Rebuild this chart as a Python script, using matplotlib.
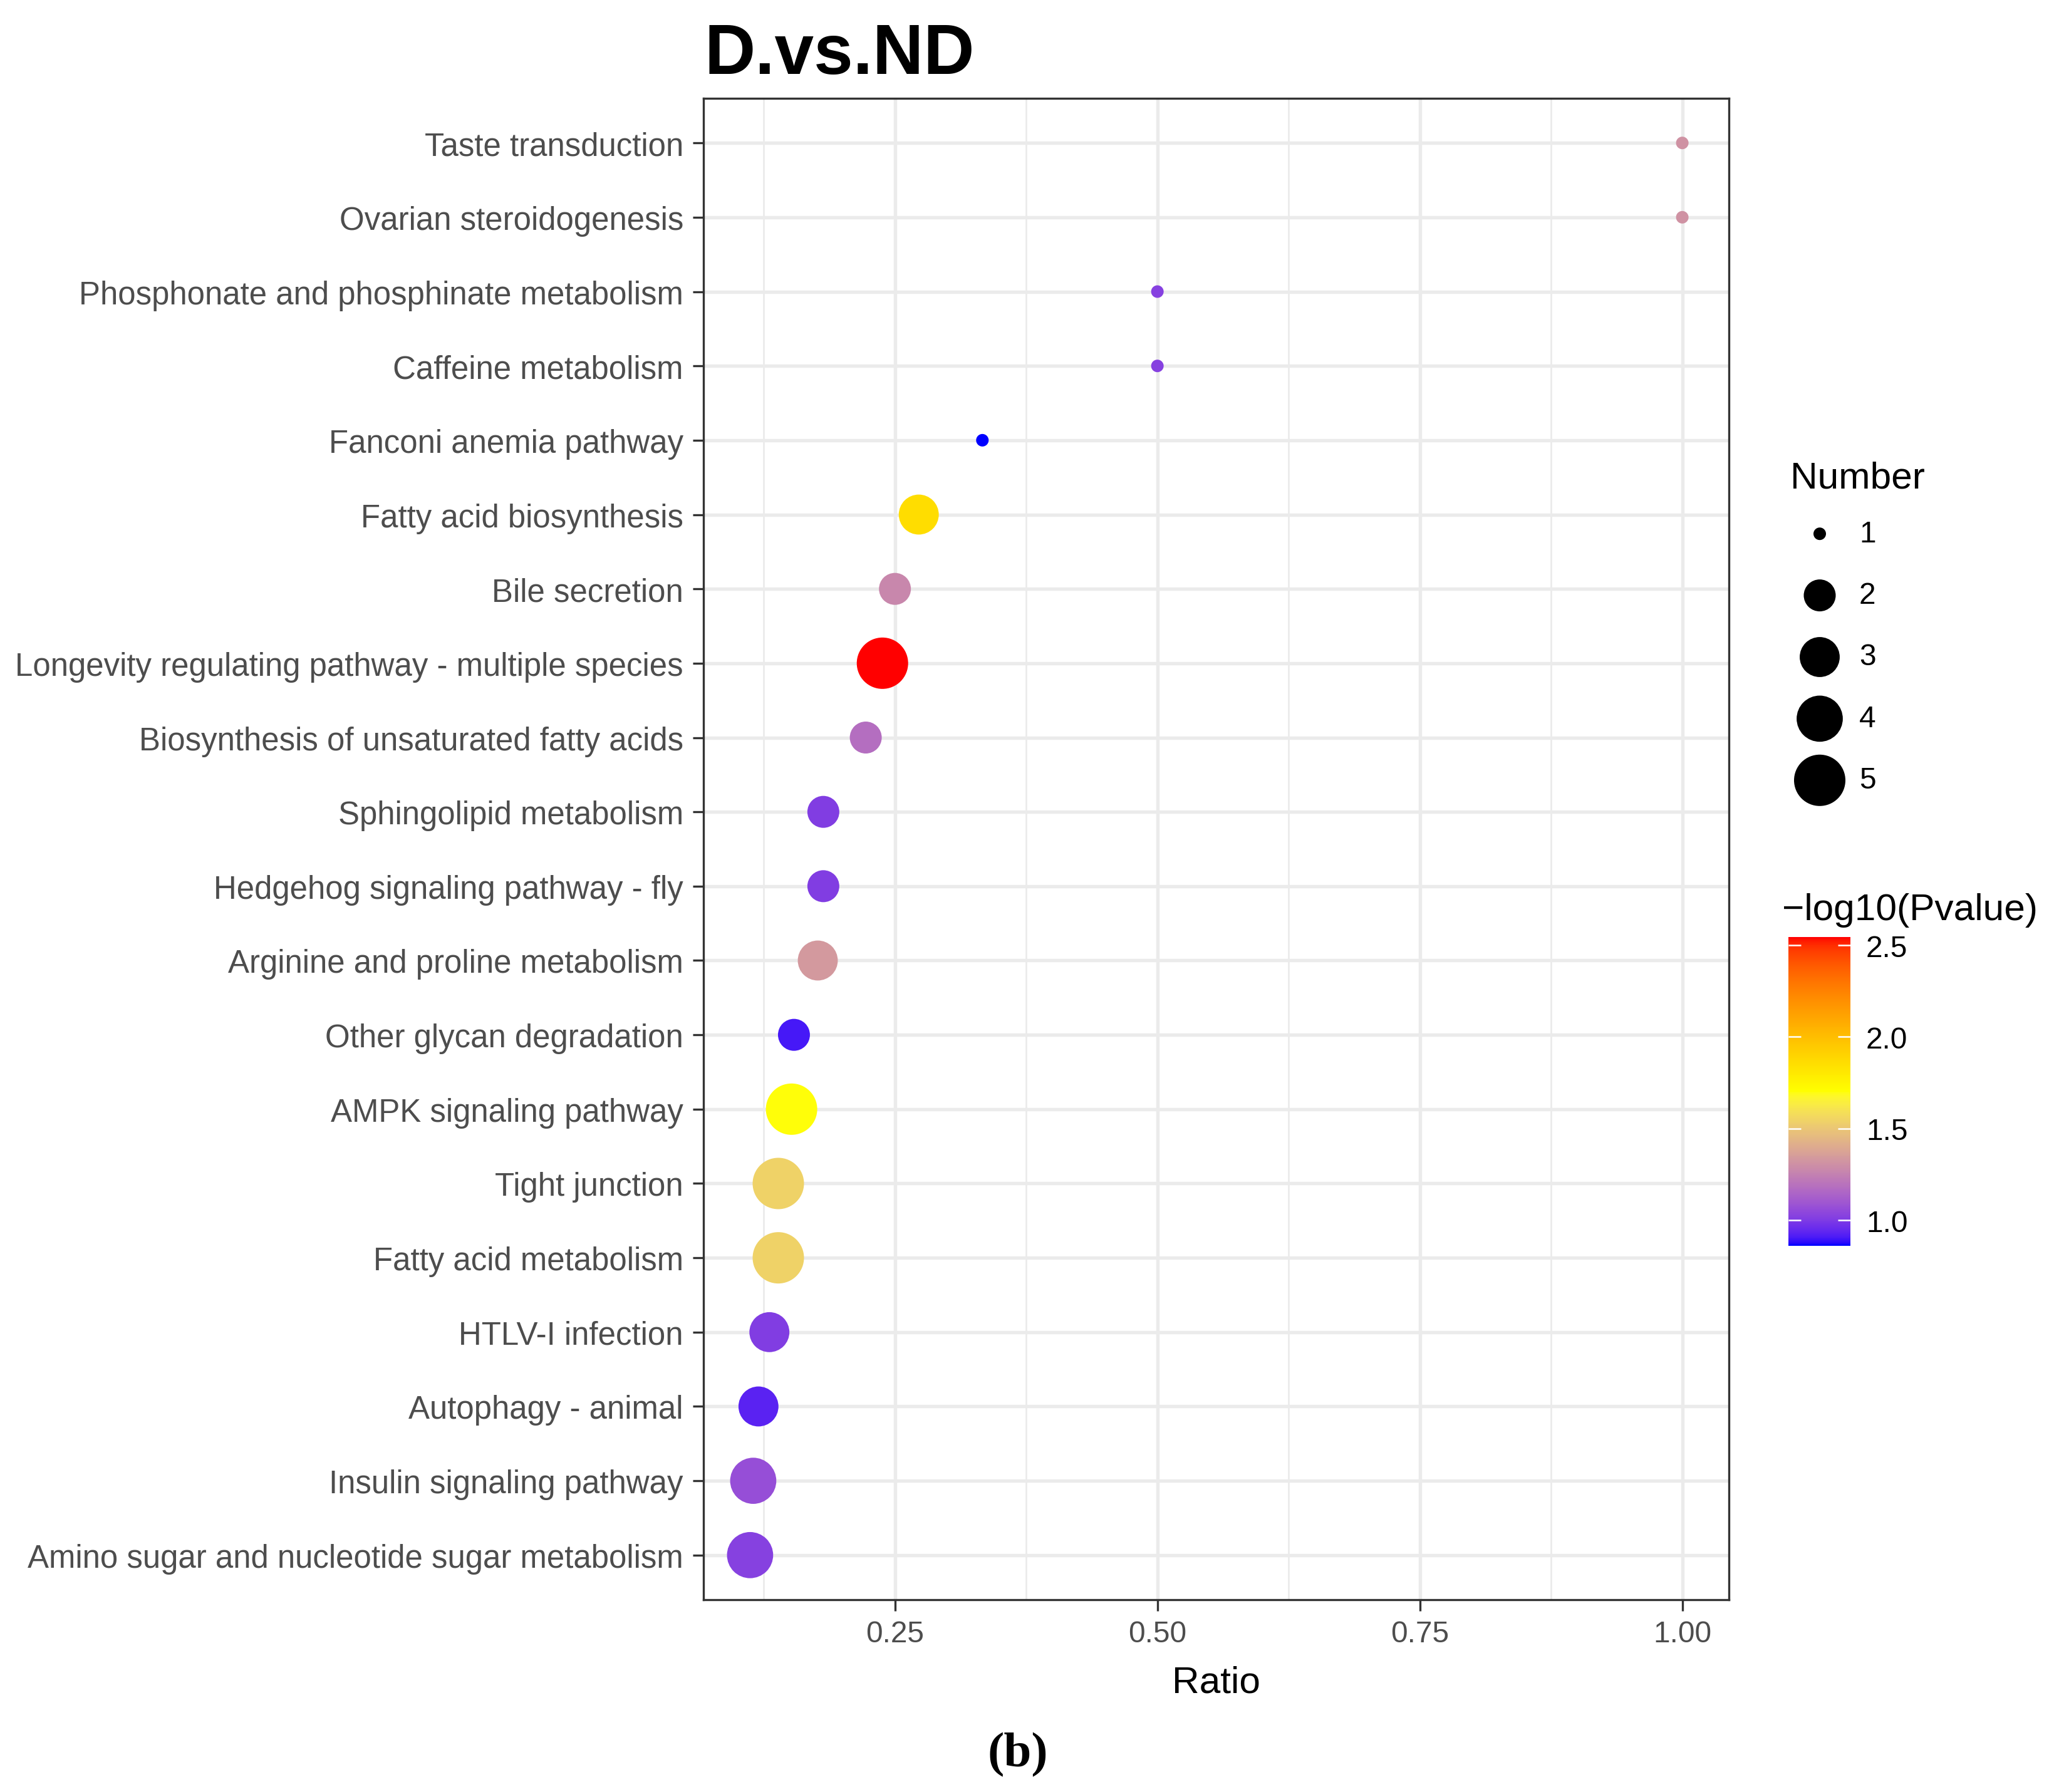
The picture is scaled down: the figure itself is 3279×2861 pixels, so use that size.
import numpy as np
import matplotlib
matplotlib.use('Agg')
from matplotlib import pyplot as plt
from matplotlib.colors import LinearSegmentedColormap, Normalize

plt.rcParams['font.family'] = ['Liberation Sans', 'DejaVu Sans']

# 数据
pathways = [
    'Amino sugar and nucleotide sugar metabolism',
    'Insulin signaling pathway',
    'Autophagy - animal',
    'HTLV-I infection',
    'Fatty acid metabolism',
    'Tight junction',
    'AMPK signaling pathway',
    'Other glycan degradation',
    'Arginine and proline metabolism',
    'Hedgehog signaling pathway - fly',
    'Sphingolipid metabolism',
    'Biosynthesis of unsaturated fatty acids',
    'Longevity regulating pathway - multiple species',
    'Bile secretion',
    'Fatty acid biosynthesis',
    'Fanconi anemia pathway',
    'Caffeine metabolism',
    'Phosphonate and phosphinate metabolism',
    'Ovarian steroidogenesis',
    'Taste transduction',
]
ratio = [0.112, 0.115, 0.12, 0.1304, 0.1389, 0.1389, 0.1515, 0.1538, 0.1765, 0.1818,
         0.1818, 0.2222, 0.2381, 0.25, 0.2727, 0.3333, 0.5, 0.5, 1.0, 1.0]
number = [4, 4, 3, 3, 5, 5, 5, 2, 3, 2, 2, 2, 5, 2, 3, 1, 1, 1, 1, 1]
neg_log_p = [1.02, 1.065, 0.93, 1.01, 1.54, 1.54, 1.70, 0.905, 1.34, 1.01,
             1.01, 1.18, 2.545, 1.27, 1.86, 0.86, 1.02, 1.02, 1.31, 1.31]
size_breaks = [1, 2, 3, 4, 5]
cbar_ticks = [1.0, 1.5, 2.0, 2.5]

W, H, DPI = 3279, 2862, 300


def srgb_to_lab(rgb):
    rgb = np.asarray(rgb, dtype=float)
    c = np.where(rgb <= 0.04045, rgb / 12.92, ((rgb + 0.055) / 1.055) ** 2.4)
    m = np.array([[0.4124, 0.3576, 0.1805], [0.2126, 0.7152, 0.0722], [0.0193, 0.1192, 0.9505]])
    xyz = (m @ c) / np.array([0.95047, 1.0, 1.08883])
    f = np.where(xyz > 0.008856, np.cbrt(xyz), 7.787 * xyz + 16 / 116)
    return np.array([116 * f[1] - 16, 500 * (f[0] - f[1]), 200 * (f[1] - f[2])])


def lab_to_srgb(lab):
    fy = (lab[0] + 16) / 116
    fx = fy + lab[1] / 500
    fz = fy - lab[2] / 200
    f = np.array([fx, fy, fz])
    xyz = np.where(f ** 3 > 0.008856, f ** 3, (f - 16 / 116) / 7.787) * np.array([0.95047, 1.0, 1.08883])
    mi = np.array([[3.2406, -1.5372, -0.4986], [-0.9689, 1.8758, 0.0415], [0.0557, -0.2040, 1.0570]])
    c = mi @ xyz
    c = np.where(c <= 0.0031308, 12.92 * c, 1.055 * np.clip(c, 0, None) ** (1 / 2.4) - 0.055)
    return np.clip(c, 0, 1)


# ggplot 风格: 在 Lab 空间中插值 blue -> yellow -> red
anchors = [srgb_to_lab(c) for c in ([0, 0, 1], [1, 1, 0], [1, 0, 0])]
samples = []
for t in np.linspace(0, 1, 256):
    seg = 0 if t < 0.5 else 1
    u = (t - 0.5 * seg) / 0.5
    samples.append(lab_to_srgb(anchors[seg] * (1 - u) + anchors[seg + 1] * u))
cmap = LinearSegmentedColormap.from_list('bl_ye_re', samples)
norm = Normalize(vmin=min(neg_log_p), vmax=max(neg_log_p))


def point_area(n):
    # scale_size (area) -> 直径像素 -> pt^2
    size = 1 + 5 * np.sqrt((np.asarray(n, dtype=float) - 1) / 4)
    d_px = 12.4 * (size + 0.613)
    return (d_px * 72 / DPI) ** 2


def fx(px):
    return px / W


def fy(px):
    return 1 - px / H


fig = plt.figure(figsize=(W / DPI, H / DPI), dpi=DPI)
ax = fig.add_axes([fx(1123), fy(2555), fx(2760 - 1123), (2555 - 158) / H])

ypos = np.arange(len(pathways))
ax.scatter(ratio, ypos, s=point_area(number), c=neg_log_p, cmap=cmap, norm=norm,
           linewidths=0, zorder=3)
ax.margins(x=0.05)
ax.set_ylim(-0.6, len(pathways) - 0.4)
ax.set_yticks(ypos)
ax.set_yticklabels(pathways)
ax.set_xticks([0.25, 0.50, 0.75, 1.00])
ax.set_xticklabels(['0.25', '0.50', '0.75', '1.00'])
ax.set_xticks([0.125, 0.375, 0.625, 0.875], minor=True)
ax.grid(True, which='major', color='#ebebeb', linewidth=1.3, zorder=0)
ax.grid(True, which='minor', axis='x', color='#ebebeb', linewidth=0.65, zorder=0)
ax.set_axisbelow(True)
for sp in ax.spines.values():
    sp.set_color('#333333')
    sp.set_linewidth(0.8)
ax.tick_params(axis='both', which='major', length=4.2, width=0.8, color='#333333',
               labelcolor='#4d4d4d', pad=3.5)
ax.tick_params(axis='y', labelsize=12.25)
ax.tick_params(axis='x', labelsize=11.5)
ax.tick_params(which='minor', length=0)
ax.set_xlabel('Ratio', fontsize=14.5, color='black', labelpad=6.5)

fig.text(fx(1124), fy(118), 'D.vs.ND', fontsize=27, fontweight='bold', va='baseline', ha='left')

# Number 图例
fig.text(fx(2858), fy(780), 'Number', fontsize=14.5, va='baseline', ha='left')
lax = fig.add_axes([fx(2855), fy(1296), fx(250), 492 / H])
lax.set_xlim(0, 250)
lax.set_ylim(5.5, 0.5)
lax.axis('off')
lax.scatter([50] * len(size_breaks), size_breaks, s=point_area(size_breaks), color='black',
            linewidths=0, clip_on=False)
for b in size_breaks:
    lax.text(113, b, str(b), fontsize=11.5, va='center', ha='left')

# 颜色条
fig.text(fx(2845), fy(1469), '\u2212log10(Pvalue)', fontsize=14.5, va='baseline', ha='left')
cax = fig.add_axes([fx(2855), fy(1990), fx(99), 493 / H])
sm = plt.cm.ScalarMappable(norm=norm, cmap=cmap)
cb = fig.colorbar(sm, cax=cax, ticks=cbar_ticks)
cb.outline.set_visible(False)
cb.ax.set_yticklabels(['%.1f' % t for t in cbar_ticks])
cb.ax.tick_params(direction='in', color='white', length=4.8, width=0.6, left=True, right=True,
                  labelsize=11.5, pad=6)

fig.text(fx(1625), fy(2820), '(b)', fontsize=19, fontweight='bold', family='Liberation Serif',
         va='baseline', ha='center')

fig.savefig('out.png', dpi=DPI)
